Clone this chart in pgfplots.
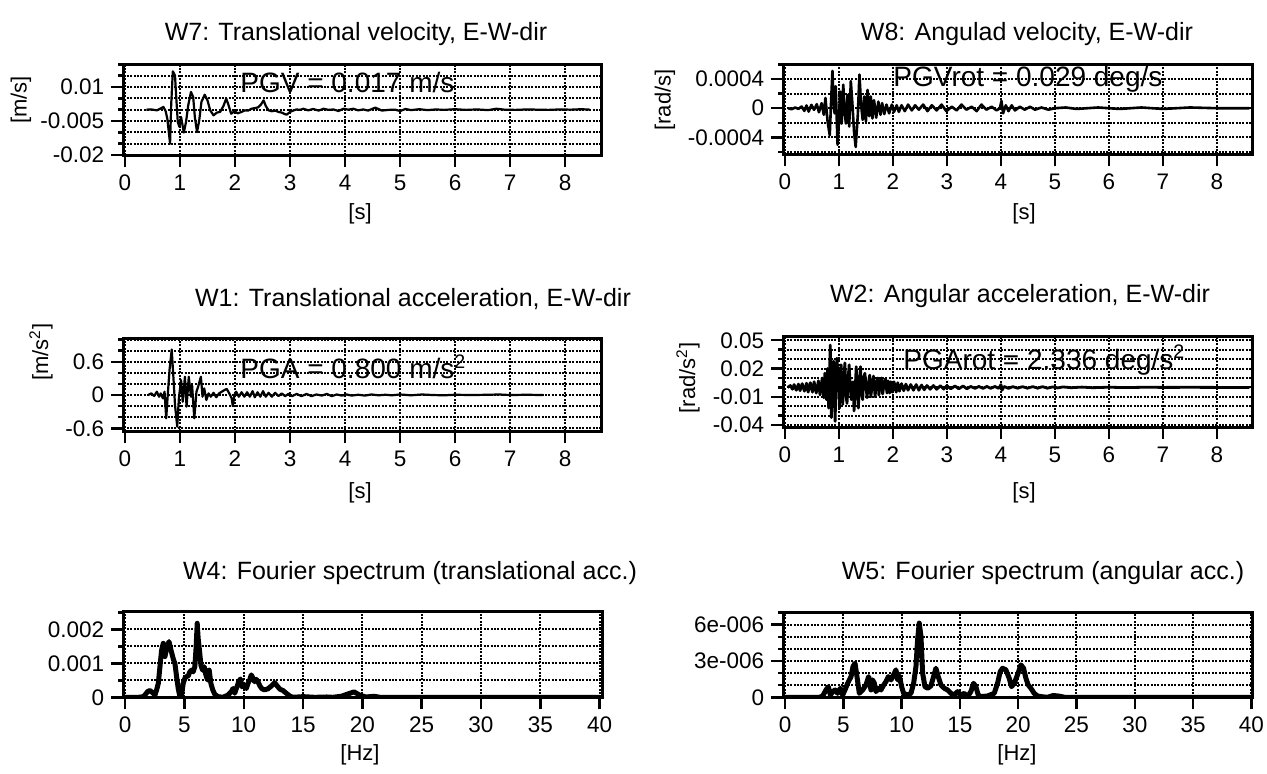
\documentclass[border=0pt]{standalone}
\usepackage{pgfplots}
\pgfplotsset{compat=1.18}
\usepackage{fontspec}
\setmainfont{Liberation Sans}

\newcommand{\tickfont}{\fontsize{11.25}{12}\selectfont}
\newcommand{\titlefont}{\fontsize{12.5}{13}\selectfont}
\newcommand{\labfont}{\fontsize{11}{12}\selectfont}
\newcommand{\notefont}{\fontsize{14}{15}\selectfont}

\pgfplotsset{
  panel/.style={
    scale only axis, anchor=north west,
    scaled y ticks=false, scaled x ticks=false,
    axis line style={line width=1.5pt},
    tick align=outside, tick pos=left,
    major tick length=6pt, minor tick length=2.5pt,
    every tick/.style={black, line width=1.2pt},
    grid=both,
    major grid style={black, line width=1pt, dash pattern=on 1pt off 0.7pt},
    minor grid style={black, line width=1pt, dash pattern=on 1pt off 0.7pt},
    ticklabel style={font=\tickfont},
    xticklabel style={text height=8pt, text depth=0pt},
  },
  tpanel/.style={panel, xmin=-0.03, xmax=8.67,
    xtick={0,1,2,3,4,5,6,7,8}, xticklabels={0,1,2,3,4,5,6,7,8}},
  fpanel/.style={panel, xmin=-0.15, xmax=40.2,
    xtick={0,5,10,15,20,25,30,35,40}, xticklabels={0,5,10,15,20,25,30,35,40}},
  sig/.style={black, line width=1.1pt, line join=round},
  spec/.style={black, line width=2.5pt, line join=round},
}

\begin{document}
\begin{tikzpicture}
\useasboundingbox (0,0) rectangle (633.5pt,-386.5pt);

% titles, labels and peak notes (drawn first, grids go over them)
\begin{scope}[x=0.5pt, y=-0.5pt]
  \node[font=\titlefont] at (356,34) {W7: Translational velocity, E-W-dir};
  \node[font=\titlefont] at (1027,34) {W8: Angulad velocity, E-W-dir};
  \node[font=\titlefont] at (413,299) {W1: Translational acceleration, E-W-dir};
  \node[font=\titlefont] at (1020,296) {W2: Angular acceleration, E-W-dir};
  \node[font=\titlefont] at (410,573) {W4: Fourier spectrum (translational acc.)};
  \node[font=\titlefont] at (1043,573) {W5: Fourier spectrum (angular acc.)};

  \node[font=\labfont, rotate=90] at (21,100) {[m/s]};
  \node[font=\labfont, rotate=90] at (665,100) {[rad/s]};
  \node[font=\labfont, rotate=90] at (41,352) {[m/s\textsuperscript{2}]};
  \node[font=\labfont, rotate=90] at (688,378) {[rad/s\textsuperscript{2}]};

  \node[font=\labfont] at (360,214) {[s]};
  \node[font=\labfont] at (1024,214) {[s]};
  \node[font=\labfont] at (360,493) {[s]};
  \node[font=\labfont] at (1024,493) {[s]};
  \node[font=\labfont] at (360,755) {[Hz]};
  \node[font=\labfont] at (1017,755) {[Hz]};

  \node[font=\notefont, anchor=west, inner sep=0pt] at (240,82) {PGV = 0.017 m/s};
  \node[font=\notefont, anchor=west, inner sep=0pt] at (893,79) {PGVrot = 0.029 deg/s};
  \node[font=\notefont, anchor=west, inner sep=0pt] at (240,367) {PGA = 0.800 m/s\textsuperscript{2}};
  \node[font=\notefont, anchor=west, inner sep=0pt] at (903,360) {PGArot = 2.336 deg/s\textsuperscript{2}};
\end{scope}

% W7
\begin{axis}[tpanel, at={(61.65pt,-32.15pt)}, width=239.35pt, height=45.35pt,
  ymin=-0.02, ymax=0.02,
  ytick={-0.02,-0.005,0.01}, yticklabels={-0.02,-0.005,0.01},
  minor ytick={-0.015,-0.01,0,0.005,0.015,0.02}]
\addplot[sig] coordinates {
(0.39,0)(0.48,0.0001)(0.58,-0.0003)(0.64,0.0004)(0.70,0.0012)(0.74,-0.0007)
(0.77,-0.004)(0.82,-0.015)(0.84,0.002)(0.87,0.0169)(0.91,0.015)(0.93,0.0063)
(0.96,-0.0054)(0.99,-0.0076)(1.02,-0.0032)(1.07,-0.0101)(1.11,-0.0054)
(1.15,0.0019)(1.20,0.0078)(1.24,0.0056)(1.27,-0.0032)(1.31,-0.0099)
(1.35,-0.0047)(1.39,0.0034)(1.45,0.0066)(1.50,0.0041)(1.55,-0.0003)
(1.61,-0.0025)(1.67,-0.0013)(1.73,-0.001)(1.79,0.0016)(1.84,0.0049)
(1.88,0.0022)(1.93,-0.0018)(1.99,-0.0007)(2.05,-0.0016)(2.12,-0.001)
(2.18,-0.0003)(2.24,-0.0004)(2.30,0.0004)(2.36,0.0007)(2.42,0.001)
(2.47,0.0022)(2.52,0.0041)(2.56,0.0016)(2.61,-0.0003)(2.67,-0.0007)
(2.73,-0.0004)(2.79,-0.001)(2.85,-0.0013)(2.90,-0.0019)(2.94,-0.0022)
(3.00,-0.001)(3.06,-0.0004)(3.12,0.0001)(3.18,-0.0001)(3.24,0.0004)
(3.33,-0.0003)(3.42,0.0003)(3.52,-0.0004)(3.61,0.0004)(3.70,-0.0001)
(3.79,0.0001)(3.88,-0.0006)(3.97,0.0004)(4.06,0)(4.15,0.0004)(4.24,-0.0003)
(4.33,0.0001)(4.42,-0.0004)(4.55,0.0009)(4.67,-0.0004)(4.79,-0.0001)
(4.91,0)(5.0,-0.0006)(5.1,0.0003)(5.2,-0.0002)(5.35,0.0002)(5.5,-0.0002)
(5.65,0.0001)(5.8,-0.0001)(6.0,0.0002)(6.2,-0.0001)(6.4,0.0001)(6.6,-0.0002)
(6.75,0.0004)(6.9,0)(7.1,-0.0001)(7.3,0.0001)(7.5,0)(7.7,-0.0001)(7.9,0.0001)
(8.1,0)(8.3,0.0002)(8.45,0)
};
\end{axis}

% W8
\begin{axis}[tpanel, xmax=8.65, at={(391.65pt,-32.15pt)}, width=234.35pt, height=45pt,
  ymin=-0.00063, ymax=0.0006,
  ytick={-0.0004,0,0.0004}, yticklabels={-0.0004,0,0.0004},
  minor ytick={-0.0006,-0.0002,0.0002,0.0006}]
\addplot[sig, line width=1.3pt] coordinates {
(0.06,0)(0.12,-0.000014)(0.19,0.000009)(0.25,-0.000009)(0.31,0.000023)
(0.36,-0.000037)(0.40,0.000037)(0.44,-0.000046)(0.49,0.000046)(0.54,-0.000023)
(0.59,0.000055)(0.63,-0.000055)(0.68,0.000069)(0.72,-0.00009)(0.75,0.00014)
(0.79,-0.00018)(0.83,-0.00037)(0.86,0.00018)(0.88,0.00051)(0.90,0.00009)
(0.92,-0.00007)(0.94,0.0003)(0.975,-0.0005)(1.00,-0.00018)(1.02,0.00023)
(1.05,-0.00021)(1.08,0.00032)(1.11,-0.00009)(1.13,-0.00021)(1.16,0.00018)
(1.19,-0.00025)(1.22,0.00037)(1.25,0.00005)(1.28,-0.00032)(1.31,-0.00053)
(1.35,-0.00009)(1.38,0.00046)(1.41,0.00005)(1.44,-0.00016)(1.47,0.00016)
(1.50,-0.00018)(1.53,0.00025)(1.56,-0.00011)(1.59,0.00016)(1.62,-0.00014)
(1.65,0.00011)(1.69,-0.00013)(1.73,0.00009)(1.77,-0.00009)(1.80,0.00007)
(1.84,-0.00008)(1.88,0.00005)(1.93,-0.00007)(1.98,0.00005)(2.02,-0.00005)
(2.07,0.00004)(2.11,-0.00005)(2.16,0.00004)(2.22,-0.00004)(2.28,0.00005)
(2.35,-0.00003)(2.41,0.00004)(2.48,-0.00002)(2.56,0.00005)(2.64,-0.00004)
(2.72,0.00004)(2.81,-0.00003)(2.90,0.00005)(2.99,-0.00004)(3.09,0.00002)
(3.18,-0.00003)(3.27,0.00005)(3.36,-0.00002)(3.46,0.00002)(3.55,-0.00004)
(3.64,0.00005)(3.73,-0.00002)(3.83,0.00002)(3.92,-0.00003)(3.98,0)
(4.01,0.0001)(4.04,-0.00007)(4.09,0.00004)(4.14,-0.00004)(4.20,0.00004)
(4.26,-0.00003)(4.35,0.00002)(4.44,-0.00002)(4.54,0.00002)(4.63,-0.00002)
(4.75,0.00001)(4.88,-0.00002)(5.0,0)(5.2,0.00001)(5.4,-0.00001)(5.8,0.00001)
(6.2,-0.00001)(6.6,0.00001)(7.0,-0.00001)(7.5,0.00001)(8.0,0)(8.6,0)
};
\end{axis}

% W1
\begin{axis}[tpanel, at={(61.65pt,-169.2pt)}, width=239.35pt, height=46.35pt,
  ymin=-0.65, ymax=1.02,
  ytick={-0.6,0,0.6}, yticklabels={-0.6,0,0.6},
  minor ytick={-0.4,-0.2,0.2,0.4,0.8,1.0}]
\addplot[sig] coordinates {
(0.42,0)(0.48,0.03)(0.53,-0.018)(0.58,0.06)(0.62,-0.03)(0.65,0.03)(0.69,-0.06)
(0.72,0.06)(0.75,-0.42)(0.78,0.03)(0.81,0.45)(0.85,0.82)(0.88,0.33)(0.91,-0.18)
(0.95,-0.57)(0.98,-0.06)(1.02,0.27)(1.05,-0.12)(1.09,0.33)(1.12,-0.21)
(1.16,0.33)(1.20,-0.03)(1.22,0.18)(1.26,-0.42)(1.30,0.06)(1.33,0.15)(1.38,0.33)
(1.41,-0.03)(1.44,0.12)(1.48,-0.09)(1.52,0.03)(1.56,-0.03)(1.61,0.04)
(1.66,-0.04)(1.71,0.03)(1.76,0.06)(1.81,0.09)(1.85,0.11)(1.89,0.04)(1.94,-0.06)
(1.96,-0.2)(1.99,0)(2.02,0.06)(2.07,-0.03)(2.12,0.05)(2.17,-0.03)(2.22,0.05)
(2.27,-0.03)(2.32,0.07)(2.36,-0.04)(2.41,0.05)(2.46,-0.03)(2.51,0.07)
(2.56,-0.03)(2.61,0.04)(2.67,-0.03)(2.73,0.04)(2.79,-0.02)(2.85,0.03)
(2.91,-0.02)(2.97,0.02)(3.04,-0.02)(3.12,0.02)(3.21,-0.02)(3.30,0.02)
(3.39,-0.02)(3.48,0.01)(3.58,-0.01)(3.67,0.02)(3.76,-0.02)(3.85,0.01)
(3.94,-0.01)(4.03,0.01)(4.12,-0.01)(4.24,0.005)(4.36,-0.01)(4.48,0.01)
(4.61,-0.005)(4.73,0.005)(4.85,-0.005)(5.0,0.01)(5.2,-0.005)(5.4,0.01)
(5.6,0)(5.8,-0.005)(6.0,0.005)(6.3,0)(6.6,0.005)(6.8,0.01)(7.0,0)(7.3,0.005)
(7.6,0)
};
\end{axis}

% W2
\begin{axis}[tpanel, xmax=8.65, at={(391.65pt,-168pt)}, width=234.35pt, height=45.5pt,
  ymin=-0.042, ymax=0.0545,
  ytick={-0.04,-0.01,0.02,0.05}, yticklabels={-0.04,-0.01,0.02,0.05},
  minor ytick={-0.03,-0.02,0,0.01,0.03,0.04}]
\addplot[sig, line width=1.4pt] coordinates {
(0.05,0)(0.10,0.002)(0.14,-0.002)(0.17,0.003)(0.21,-0.003)(0.25,0.0035)
(0.28,-0.0035)(0.32,0.004)(0.36,-0.004)(0.40,0.0045)(0.43,-0.005)(0.47,0.005)
(0.51,-0.005)(0.54,0.006)(0.58,-0.006)(0.62,0.007)(0.65,-0.008)(0.69,0.010)
(0.72,-0.011)(0.74,0.015)(0.77,-0.013)(0.79,0.020)(0.81,-0.022)(0.84,0.045)
(0.86,-0.032)(0.88,0.017)(0.90,0.028)(0.93,-0.036)(0.94,-0.008)(0.96,0.031)
(0.99,0.010)(1.01,-0.022)(1.02,0.001)(1.04,0.024)(1.07,-0.018)(1.09,0.006)
(1.11,0.026)(1.13,-0.008)(1.15,-0.017)(1.17,0.010)(1.19,0.024)(1.21,-0.001)
(1.23,-0.013)(1.26,0.006)(1.28,-0.025)(1.30,-0.004)(1.32,0.022)(1.34,-0.001)
(1.36,-0.022)(1.38,0.006)(1.40,0.022)(1.42,-0.008)(1.44,-0.013)(1.46,0.010)
(1.48,0.015)(1.51,-0.004)(1.52,-0.011)(1.55,0.006)(1.57,0.013)(1.59,-0.010)
(1.62,0.003)(1.64,0.012)(1.67,-0.010)(1.69,0.005)(1.72,0.010)(1.74,-0.008)
(1.77,0.006)(1.79,0.010)(1.81,-0.007)(1.84,0.005)(1.86,0.009)(1.89,-0.006)
(1.91,0.007)(1.94,-0.006)(1.96,0.006)(1.99,-0.005)(2.02,0.006)(2.06,-0.005)
(2.09,0.005)(2.12,-0.004)(2.16,0.004)(2.20,-0.0035)(2.24,0.0035)(2.28,-0.003)
(2.33,0.003)(2.38,-0.003)(2.43,0.003)(2.48,-0.003)(2.53,0.0025)(2.58,-0.0025)
(2.63,0.002)(2.69,-0.002)(2.75,0.002)(2.81,-0.002)(2.88,0.0018)(2.94,-0.0018)
(3.00,0.0018)(3.07,-0.0015)(3.15,0.0015)(3.22,-0.0015)(3.30,0.0015)
(3.37,-0.0015)(3.44,0.001)(3.52,-0.001)(3.59,0.001)(3.67,-0.001)(3.74,0.001)
(3.81,-0.001)(3.89,0.001)(3.96,-0.001)(4.00,0.003)(4.02,-0.003)(4.06,0.001)
(4.14,-0.001)(4.22,0.0008)(4.31,-0.0008)(4.40,0.0008)(4.49,-0.0008)
(4.59,0.0008)(4.68,-0.0008)(4.77,0.0008)(4.86,-0.0008)(4.96,0.0005)
(5.05,-0.0005)(5.15,0.0005)(5.3,-0.0003)(5.5,0.0003)(5.7,-0.0003)(6.0,0.0002)
(6.3,-0.0002)(6.7,0.0002)(7.0,0)(7.5,0.0001)(8.0,0)(8.6,0)
};
\end{axis}

% W4
\begin{axis}[fpanel, at={(61.65pt,-305.85pt)}, width=239.35pt, height=42.8pt,
  ymin=0, ymax=0.00252,
  ytick={0,0.001,0.002}, yticklabels={0,0.001,0.002},
  minor ytick={0.0005,0.0015,0.0025}]
\addplot[spec] coordinates {
(0,0)(1.12,0)(1.54,0.00002)(1.68,0.00007)(1.90,0.00017)(2.10,0.0002)
(2.30,0.00014)(2.52,0.00007)(2.66,0.00022)(2.80,0.00041)(2.94,0.0009)
(3.08,0.00139)(3.22,0.00159)(3.36,0.0012)(3.50,0.00144)(3.70,0.00164)
(3.87,0.00139)(3.98,0.00124)(4.09,0.0011)(4.20,0.001)(4.34,0.00061)
(4.48,0.00026)(4.62,0.00002)(4.76,0.00007)(4.90,0.00041)(5.04,0.00056)
(5.18,0.00061)(5.32,0.00063)(5.46,0.00075)(5.60,0.0008)(5.74,0.00075)
(5.88,0.0009)(5.99,0.00149)(6.08,0.00218)(6.16,0.00173)(6.27,0.00139)
(6.39,0.00095)(6.53,0.0008)(6.67,0.0009)(6.81,0.00066)(6.95,0.00051)
(7.09,0.0008)(7.23,0.00041)(7.39,0.00022)(7.56,0.00009)(7.84,0.00002)
(8.26,0)(8.68,0.00007)(8.96,0.00017)(9.10,0.00026)(9.24,0.00012)(9.41,0.00029)
(9.58,0.00046)(9.72,0.00054)(9.86,0.00031)(10.03,0.00036)(10.22,0.00026)
(10.36,0.00041)(10.50,0.00051)(10.64,0.00066)(10.78,0.00056)(10.92,0.00046)
(11.06,0.00053)(11.20,0.00046)(11.37,0.00033)(11.54,0.00025)(11.76,0.00022)
(12.04,0.00025)(12.32,0.00033)(12.61,0.00043)(12.83,0.00033)(13.05,0.00024)
(13.31,0.0002)(13.59,0.00012)(13.87,0.00004)(14.15,0)(15,0.00002)(16,0)
(17,0.00001)(17.5,0)(18.2,0.00003)(18.8,0.0001)(19.3,0.00016)(19.8,0.00006)
(20.3,0.00001)(21,0.00003)(21.5,0)(22,0)(40,0)
};
\end{axis}

% W5
\begin{axis}[fpanel, xmax=40.1, at={(391.65pt,-306.25pt)}, width=234.6pt, height=42.4pt,
  ymin=0, ymax=7e-6,
  ytick={0,3e-6,6e-6}, yticklabels={0,3e-006,6e-006},
  minor ytick={1e-6,2e-6,4e-6,5e-6,7e-6}]
\addplot[spec] coordinates {
(0,0)(2.94,0)(3.23,0.11e-6)(3.51,0.61e-6)(3.71,0.88e-6)(3.89,0.19e-6)
(4.09,0.47e-6)(4.29,0.61e-6)(4.51,0.33e-6)(4.74,0.75e-6)(4.94,0.19e-6)
(5.14,0.61e-6)(5.37,1.16e-6)(5.66,1.71e-6)(5.83,2.54e-6)(6.00,2.82e-6)
(6.17,1.71e-6)(6.37,0.33e-6)(6.66,0.61e-6)(6.94,1.02e-6)(7.17,1.71e-6)
(7.37,0.61e-6)(7.51,1.44e-6)(7.66,1.16e-6)(7.80,0.47e-6)(8.0,0.75e-6)
(8.23,0.61e-6)(8.46,1.02e-6)(8.66,1.3e-6)(8.86,1.71e-6)(9.09,1.44e-6)
(9.31,1.85e-6)(9.51,2.27e-6)(9.66,1.44e-6)(9.80,1.77e-6)(10.0,0.88e-6)
(10.17,0.33e-6)(10.51,0.19e-6)(10.8,0.33e-6)(11.03,1.16e-6)(11.23,2.54e-6)
(11.37,4.75e-6)(11.51,6.13e-6)(11.66,5.03e-6)(11.8,1.99e-6)(12.0,0.88e-6)
(12.23,0.75e-6)(12.51,0.94e-6)(12.74,1.71e-6)(12.94,2.4e-6)(13.14,1.71e-6)
(13.37,1.02e-6)(13.66,0.75e-6)(13.94,0.61e-6)(14.23,0.33e-6)(14.51,0.19e-6)
(14.8,0.47e-6)(15.09,0.19e-6)(15.37,0.33e-6)(15.66,0.06e-6)(15.94,0.47e-6)
(16.17,1.16e-6)(16.37,0.88e-6)(16.57,0.19e-6)(16.8,0.06e-6)(17.37,0.11e-6)
(17.94,0.33e-6)(18.23,1.16e-6)(18.46,2.13e-6)(18.66,2.4e-6)(18.94,2.27e-6)
(19.23,1.57e-6)(19.43,0.88e-6)(19.66,1.16e-6)(19.94,1.85e-6)(20.23,2.68e-6)
(20.46,2.4e-6)(20.66,1.57e-6)(20.86,1.02e-6)(21.09,0.75e-6)(21.37,0.33e-6)
(21.66,0.11e-6)(21.94,0.06e-6)(22.5,0)(23,0.15e-6)(23.5,0.1e-6)(24,0)(40,0)
};
\end{axis}
\end{tikzpicture}
\end{document}
